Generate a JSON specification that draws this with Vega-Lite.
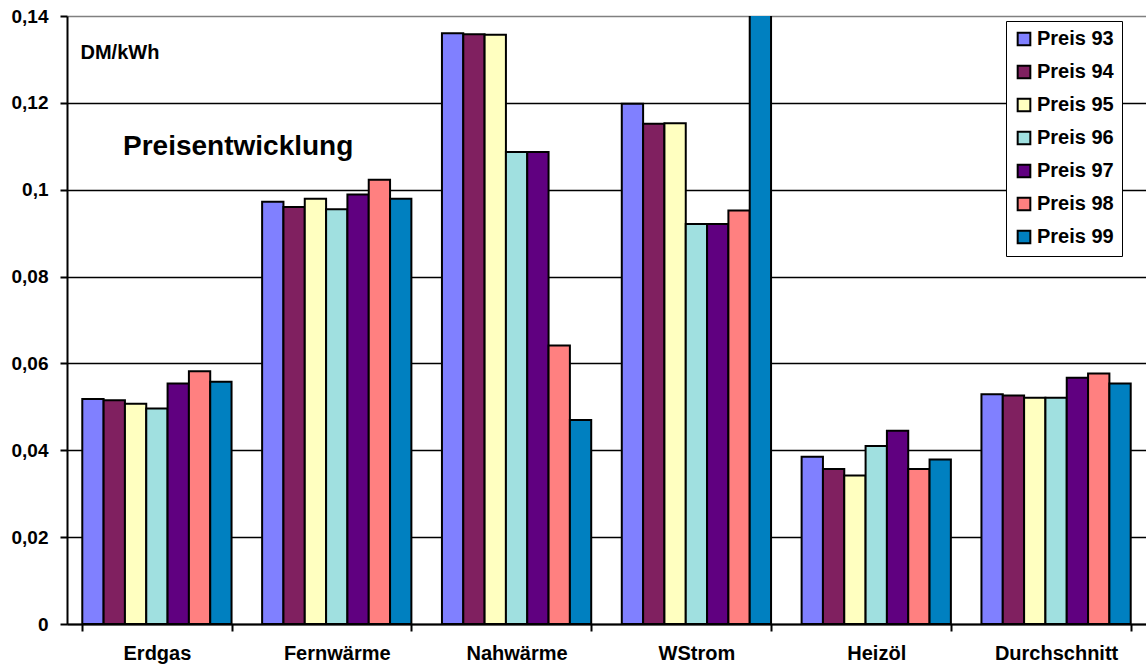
{
  "$schema": "https://vega.github.io/schema/vega-lite/v6.json",
  "autosize": "none",
  "width": 1079,
  "height": 608,
  "padding": {"left": 67, "top": 16, "right": 0, "bottom": 44},
  "background": "white",
  "title": {
    "text": "Preisentwicklung",
    "anchor": "start",
    "frame": "group",
    "orient": "top",
    "offset": 0,
    "dx": 56,
    "dy": 176,
    "baseline": "alphabetic",
    "font": "Liberation Sans",
    "fontSize": 28,
    "fontWeight": "bold",
    "color": "black"
  },
  "data": {
    "values": [
      {"cat": "Erdgas", "series": "Preis 93", "value": 0.0518},
      {"cat": "Erdgas", "series": "Preis 94", "value": 0.0515},
      {"cat": "Erdgas", "series": "Preis 95", "value": 0.0507},
      {"cat": "Erdgas", "series": "Preis 96", "value": 0.0496},
      {"cat": "Erdgas", "series": "Preis 97", "value": 0.0554},
      {"cat": "Erdgas", "series": "Preis 98", "value": 0.0582},
      {"cat": "Erdgas", "series": "Preis 99", "value": 0.0558},
      {"cat": "Fernwärme", "series": "Preis 93", "value": 0.0972},
      {"cat": "Fernwärme", "series": "Preis 94", "value": 0.0960},
      {"cat": "Fernwärme", "series": "Preis 95", "value": 0.0979},
      {"cat": "Fernwärme", "series": "Preis 96", "value": 0.0955},
      {"cat": "Fernwärme", "series": "Preis 97", "value": 0.0989},
      {"cat": "Fernwärme", "series": "Preis 98", "value": 0.1023},
      {"cat": "Fernwärme", "series": "Preis 99", "value": 0.0979},
      {"cat": "Nahwärme", "series": "Preis 93", "value": 0.1360},
      {"cat": "Nahwärme", "series": "Preis 94", "value": 0.1358},
      {"cat": "Nahwärme", "series": "Preis 95", "value": 0.1357},
      {"cat": "Nahwärme", "series": "Preis 96", "value": 0.1087},
      {"cat": "Nahwärme", "series": "Preis 97", "value": 0.1087},
      {"cat": "Nahwärme", "series": "Preis 98", "value": 0.0641},
      {"cat": "Nahwärme", "series": "Preis 99", "value": 0.0470},
      {"cat": "WStrom", "series": "Preis 93", "value": 0.1198},
      {"cat": "WStrom", "series": "Preis 94", "value": 0.1152},
      {"cat": "WStrom", "series": "Preis 95", "value": 0.1153},
      {"cat": "WStrom", "series": "Preis 96", "value": 0.0921},
      {"cat": "WStrom", "series": "Preis 97", "value": 0.0921},
      {"cat": "WStrom", "series": "Preis 98", "value": 0.0952},
      {"cat": "WStrom", "series": "Preis 99", "value": 0.1700},
      {"cat": "Heizöl", "series": "Preis 93", "value": 0.0385},
      {"cat": "Heizöl", "series": "Preis 94", "value": 0.0357},
      {"cat": "Heizöl", "series": "Preis 95", "value": 0.0342},
      {"cat": "Heizöl", "series": "Preis 96", "value": 0.0410},
      {"cat": "Heizöl", "series": "Preis 97", "value": 0.0445},
      {"cat": "Heizöl", "series": "Preis 98", "value": 0.0357},
      {"cat": "Heizöl", "series": "Preis 99", "value": 0.0379},
      {"cat": "Durchschnitt", "series": "Preis 93", "value": 0.0529},
      {"cat": "Durchschnitt", "series": "Preis 94", "value": 0.0526},
      {"cat": "Durchschnitt", "series": "Preis 95", "value": 0.0521},
      {"cat": "Durchschnitt", "series": "Preis 96", "value": 0.0521},
      {"cat": "Durchschnitt", "series": "Preis 97", "value": 0.0567},
      {"cat": "Durchschnitt", "series": "Preis 98", "value": 0.0577},
      {"cat": "Durchschnitt", "series": "Preis 99", "value": 0.0554}
    ]
  },
  "mark": {"type": "bar", "stroke": "black", "strokeWidth": 2, "clip": true},
  "encoding": {
    "x": {
      "field": "cat",
      "type": "nominal",
      "sort": null,
      "scale": {"paddingInner": 0.17, "paddingOuter": 0.085},
      "axis": {
        "title": null,
        "labelAngle": 0,
        "labelFont": "Liberation Sans",
        "labelFontSize": 20,
        "labelFontWeight": "bold",
        "labelColor": "black",
        "labelPadding": 12,
        "tickBand": "extent",
        "tickSize": 7,
        "tickColor": "black",
        "tickWidth": 2,
        "domainColor": "black",
        "domainWidth": 2,
        "grid": false
      }
    },
    "xOffset": {
      "field": "series",
      "type": "nominal",
      "scale": {"paddingInner": 0, "paddingOuter": 0}
    },
    "y": {
      "field": "value",
      "type": "quantitative",
      "scale": {"domain": [0, 0.14], "nice": false, "zero": true},
      "axis": {
        "values": [0, 0.02, 0.04, 0.06, 0.08, 0.1, 0.12, 0.14],
        "labelExpr": "replace(toString(datum.value), '.', ',')",
        "title": "DM/kWh",
        "titleAngle": 0,
        "titleAlign": "left",
        "titleBaseline": "middle",
        "titleX": 13,
        "titleY": 36,
        "titleFont": "Liberation Sans",
        "titleFontSize": 20,
        "titleFontWeight": "bold",
        "titleColor": "black",
        "labelFont": "Liberation Sans",
        "labelFontSize": 19,
        "labelFontWeight": "bold",
        "labelColor": "black",
        "labelPadding": 12,
        "tickSize": 7,
        "tickColor": "black",
        "tickWidth": 2,
        "domainColor": "black",
        "domainWidth": 2,
        "grid": true,
        "gridColor": {"condition": {"test": "datum.value >= 0.14", "value": "#808080"}, "value": "black"},
        "gridWidth": 1.5,
        "gridOpacity": 1
      }
    },
    "fill": {
      "field": "series",
      "type": "nominal",
      "scale": {
        "domain": ["Preis 93", "Preis 94", "Preis 95", "Preis 96", "Preis 97", "Preis 98", "Preis 99"],
        "range": ["#8080FF", "#802060", "#FFFFC0", "#A0E0E0", "#600080", "#FF8080", "#0080C0"]
      },
      "legend": {
        "title": null,
        "orient": "none",
        "legendX": 939,
        "legendY": 5,
        "padding": 8,
        "strokeColor": "black",
        "fillColor": "white",
        "symbolType": "square",
        "symbolSize": 160,
        "symbolStrokeColor": "black",
        "symbolStrokeWidth": 2,
        "symbolOpacity": 1,
        "labelFont": "Liberation Sans",
        "labelFontSize": 20,
        "labelFontWeight": "bold",
        "labelColor": "black",
        "labelOffset": 3,
        "rowPadding": 11
      }
    }
  },
  "config": {
    "view": {"stroke": null}
  }
}
